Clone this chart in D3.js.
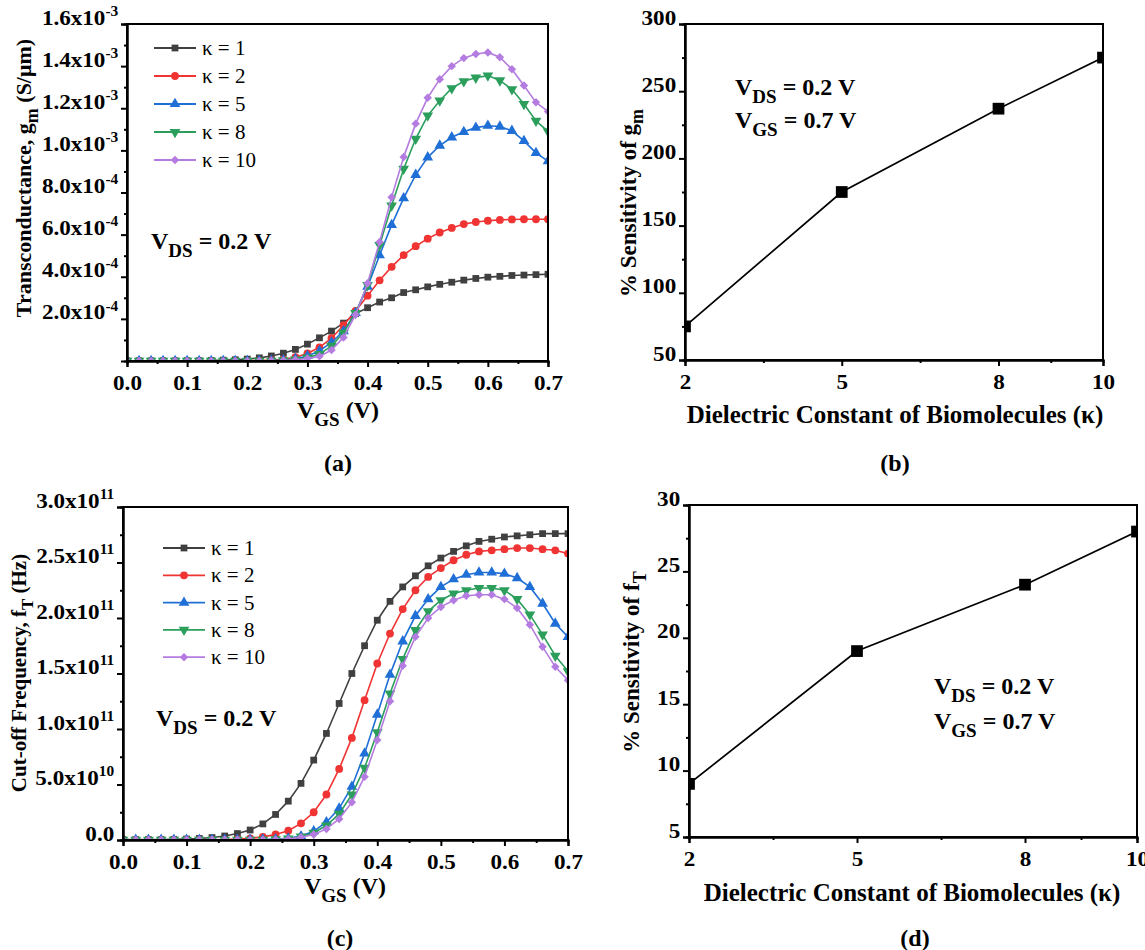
<!DOCTYPE html>
<html>
<head>
<meta charset="utf-8">
<script src="https://cdn.jsdelivr.net/npm/d3@7"></script>
<style>
  body { margin: 0; background: #fff; }
  svg text { font-family: "Liberation Serif", "Times New Roman", serif; font-weight: bold; fill: #000; }
  svg text.plain { font-weight: normal; }
</style>
</head>
<body>
<svg id="fig" width="1145" height="950"></svg>
<script>
// gate voltage grid (V)
const vgs = [0.00,0.02,0.04,0.06,0.08,0.10,0.12,0.14,0.16,0.18,0.20,0.22,0.24,0.26,0.28,0.30,0.32,0.34,
             0.36,0.38,0.40,0.42,0.44,0.46,0.48,0.50,0.52,0.54,0.56,0.58,0.60,0.62,0.64,0.66,0.68,0.70];
const kappaLabels = ['κ = 1', 'κ = 2', 'κ = 5', 'κ = 8', 'κ = 10'];
const seriesColors = ['#404040', '#f03434', '#1f6fd6', '#2b9e5c', '#b47ce0'];

// transconductance, units of 1e-4 S/um
const gmK1 = [0.005,0.005,0.005,0.006,0.008,0.01,0.015,0.025,0.04,0.06,0.09,0.15,0.24,0.37,0.55,0.8,1.1,1.42,
              1.8,2.25,2.53,2.8,3.0,3.25,3.38,3.52,3.64,3.74,3.84,3.92,3.98,4.02,4.06,4.08,4.1,4.12];
const gmK2 = [0.003,0.003,0.003,0.003,0.003,0.003,0.003,0.003,0.003,0.006,0.01,0.02,0.04,0.08,0.18,0.36,0.65,1.08,
              1.7,2.38,3.1,3.83,4.47,5.03,5.45,5.81,6.1,6.32,6.5,6.6,6.66,6.7,6.72,6.73,6.73,6.73];
const gmK5 = [0.002,0.002,0.002,0.002,0.002,0.002,0.002,0.002,0.002,0.002,0.002,0.005,0.015,0.04,0.1,0.24,0.48,0.88,
              1.42,2.28,3.53,5.02,6.46,7.73,8.84,9.67,10.23,10.62,10.88,11.08,11.17,11.13,10.93,10.45,9.88,9.49];
const gmK8 = [0.002,0.002,0.002,0.002,0.002,0.002,0.002,0.002,0.002,0.002,0.002,0.002,0.01,0.03,0.07,0.16,0.33,0.72,
              1.34,2.28,3.6,5.5,7.38,9.12,10.55,11.65,12.36,12.95,13.28,13.45,13.55,13.32,12.9,12.2,11.4,10.9];
const gmK10 = [0.002,0.002,0.002,0.002,0.002,0.002,0.002,0.002,0.002,0.002,0.002,0.002,0.008,0.025,0.06,0.12,0.22,0.52,
               1.12,2.2,3.69,5.65,7.78,9.68,11.27,12.5,13.38,14.0,14.38,14.58,14.65,14.42,13.85,13.08,12.28,11.85];

// cut-off frequency, units of 1e11 Hz
const ftK1 = [0.003,0.003,0.003,0.004,0.006,0.009,0.014,0.022,0.036,0.058,0.09,0.145,0.23,0.35,0.51,0.72,0.96,1.23,
              1.5,1.75,1.98,2.15,2.28,2.38,2.47,2.54,2.6,2.65,2.69,2.71,2.73,2.74,2.75,2.76,2.76,2.76];
const ftK2 = [0.002,0.002,0.002,0.002,0.002,0.002,0.002,0.002,0.004,0.008,0.015,0.028,0.05,0.084,0.15,0.25,0.41,0.64,
              0.92,1.26,1.59,1.86,2.08,2.25,2.37,2.45,2.52,2.57,2.6,2.61,2.62,2.63,2.63,2.62,2.61,2.58];
const ftK5 = [0.002,0.002,0.002,0.002,0.002,0.002,0.002,0.002,0.002,0.002,0.002,0.004,0.008,0.015,0.035,0.08,0.16,0.285,
              0.48,0.78,1.13,1.49,1.79,2.02,2.17,2.28,2.35,2.39,2.41,2.41,2.4,2.36,2.28,2.13,1.95,1.83];
const ftK8 = [0.002,0.002,0.002,0.002,0.002,0.002,0.002,0.002,0.002,0.002,0.002,0.002,0.005,0.012,0.03,0.065,0.13,0.235,
              0.41,0.65,0.97,1.32,1.63,1.89,2.06,2.16,2.22,2.25,2.27,2.27,2.25,2.17,2.03,1.85,1.66,1.52];
const ftK10 = [0.002,0.002,0.002,0.002,0.002,0.002,0.002,0.002,0.002,0.002,0.002,0.002,0.004,0.01,0.025,0.05,0.1,0.19,
               0.34,0.57,0.9,1.25,1.57,1.83,2.0,2.1,2.16,2.2,2.21,2.21,2.17,2.09,1.94,1.74,1.56,1.44];

// sensitivity vs dielectric constant
const kappaVals = [2, 5, 8, 10];
const sensGm = [75, 175, 237, 275];
const sensFt = [9, 19, 24, 28];

const svg = d3.select('#fig');
const defs = svg.append('defs');
const markerTypes = [d3.symbolSquare, d3.symbolCircle, d3.symbolTriangle, d3.symbolTriangle, d3.symbolSquare];
const markerRot = [0, 0, 0, 180, 45];
const markerSize = [46, 48, 50, 50, 36];
const TICK_FS = 21;

// parts: [[text, ''|'sub'|'sup'], ...]
function richText(sel, parts, fs) {
  let cur = 0;
  parts.forEach(p => {
    const kind = p[1] || '';
    const off = kind === 'sub' ? fs * 0.32 : kind === 'sup' ? -fs * 0.42 : 0;
    const ts = sel.append('tspan').attr('dy', off - cur).text(p[0]);
    if (kind) ts.attr('font-size', Math.round(fs * (kind === 'sup' ? 0.66 : 0.8)));
    cur = off;
  });
  return sel;
}

function label(x, y, parts, fs, opts = {}) {
  const t = svg.append('text').attr('x', x).attr('y', y).attr('font-size', fs)
    .attr('text-anchor', opts.anchor || 'start');
  if (opts.rotate) t.attr('transform', `rotate(-90,${x},${y})`);
  return richText(t, parts, fs);
}

function marker(g, i, x, y, color, scale = 1) {
  g.append('path')
    .attr('d', d3.symbol(markerTypes[i], markerSize[i] * scale)())
    .attr('transform', `translate(${x},${y}) rotate(${markerRot[i]})`)
    .attr('fill', color);
}

function panel(cfg) {
  const x = d3.scaleLinear().domain(cfg.xDomain).range([cfg.l, cfg.r]);
  const y = d3.scaleLinear().domain(cfg.yDomain).range([cfg.b, cfg.t]);
  const id = 'clip' + cfg.name;
  defs.append('clipPath').attr('id', id).append('rect')
    .attr('x', cfg.l).attr('y', cfg.t).attr('width', cfg.r - cfg.l).attr('height', cfg.b - cfg.t);
  const plot = svg.append('g').attr('clip-path', `url(#${id})`);

  cfg.series.forEach(s => {
    const pts = cfg.xs.map((v, j) => [x(v), y(s.values[j])]);
    plot.append('path').attr('d', d3.line()(pts))
      .attr('fill', 'none').attr('stroke', s.color).attr('stroke-width', cfg.lineW || 1.6);
    pts.forEach(p => marker(plot, s.marker, p[0], p[1], s.color, cfg.markScale || 1));
  });

  const axes = svg.append('g').attr('class', 'axes');
  axes.append('g').attr('transform', `translate(0,${cfg.b})`)
    .call(d3.axisBottom(x).tickValues(cfg.xTicks).tickSize(6).tickPadding(8).tickFormat(cfg.xFmt));
  axes.append('g').attr('transform', `translate(0,${cfg.b})`)
    .call(d3.axisBottom(x).tickValues(cfg.xMinor).tickSize(3).tickFormat(''));
  const yAxis = axes.append('g').attr('transform', `translate(${cfg.l},0)`)
    .call(d3.axisLeft(y).tickValues(cfg.yTicks).tickSize(6).tickPadding(2).tickFormat(''));
  axes.append('g').attr('transform', `translate(${cfg.l},0)`)
    .call(d3.axisLeft(y).tickValues(cfg.yMinor).tickSize(3).tickFormat(''));
  yAxis.selectAll('.tick text').each(function(d) {
    richText(d3.select(this), cfg.yFmt(d), TICK_FS);
  });
  axes.selectAll('.domain').attr('stroke-width', 2);
  axes.selectAll('.tick line').attr('stroke-width', 2);
  // the source figure's lettering is a little wide, so stretch tick labels sideways
  axes.selectAll('.tick text').attr('font-size', TICK_FS).attr('transform', 'scale(1.1,1)');
  axes.append('rect').attr('x', cfg.l).attr('y', cfg.t)
    .attr('width', cfg.r - cfg.l).attr('height', cfg.b - cfg.t)
    .attr('fill', 'none').attr('stroke', '#000').attr('stroke-width', 2);
  return { x, y };
}

function legend(x0, y0, dy) {
  kappaLabels.forEach((lab, i) => {
    const yy = y0 + i * dy;
    svg.append('line').attr('x1', x0).attr('x2', x0 + 42).attr('y1', yy).attr('y2', yy)
      .attr('stroke', seriesColors[i]).attr('stroke-width', 1.8);
    marker(svg, i, x0 + 21, yy, seriesColors[i]);
    svg.append('text').attr('class', 'plain').attr('x', x0 + 48).attr('y', yy + 7)
      .attr('font-size', 21).text(lab);
  });
}

const sciFmt = (mant, exp) => [[mant + 'x10'], [exp, 'sup']];
const vTicks = [0, 0.1, 0.2, 0.3, 0.4, 0.5, 0.6, 0.7];
const vMinor = [0.05, 0.15, 0.25, 0.35, 0.45, 0.55, 0.65];

// (a) transconductance
panel({
  name: 'a', l: 127, r: 548, t: 24, b: 361,
  xDomain: [0, 0.7], yDomain: [0, 16], xs: vgs,
  xTicks: vTicks, xMinor: vMinor, xFmt: d3.format('.1f'),
  yTicks: [2, 4, 6, 8, 10, 12, 14, 16], yMinor: [1, 3, 5, 7, 9, 11, 13, 15],
  yFmt: d => d < 10 ? sciFmt(d.toFixed(1), '-4') : sciFmt((d / 10).toFixed(1), '-3'),
  series: [gmK1, gmK2, gmK5, gmK8, gmK10].map((v, i) => ({ values: v, color: seriesColors[i], marker: i }))
});
legend(154, 48, 28);
label(151, 249, [['V'], ['DS', 'sub'], [' = 0.2 V']], 24);
label(31, 178, [['Transconductance, g'], ['m', 'sub'], [' (S/μm)']], 22, { rotate: true, anchor: 'middle' });
label(338, 418, [['V'], ['GS', 'sub'], [' (V)']], 24, { anchor: 'middle' });
label(338, 471, [['(a)']], 24, { anchor: 'middle' });

// (b) sensitivity of gm
panel({
  name: 'b', l: 685, r: 1103, t: 24, b: 360,
  xDomain: [2, 10], yDomain: [50, 300], xs: kappaVals,
  xTicks: [2, 5, 8, 10], xMinor: [3.5, 6.5, 9], xFmt: d3.format('d'),
  yTicks: [50, 100, 150, 200, 250, 300], yMinor: [75, 125, 175, 225, 275],
  yFmt: d => [[String(d)]],
  lineW: 1.7, markScale: 3,
  series: [{ values: sensGm, color: '#000', marker: 0 }]
});
label(735, 95, [['V'], ['DS', 'sub'], [' = 0.2 V']], 24);
label(735, 128, [['V'], ['GS', 'sub'], [' = 0.7 V']], 24);
label(636, 203, [['% Sensitivity of g'], ['m', 'sub']], 23, { rotate: true, anchor: 'middle' });
label(895, 423, [['Dielectric Constant of Biomolecules (κ)']], 25, { anchor: 'middle' });
label(895, 471, [['(b)']], 24, { anchor: 'middle' });

// (c) cut-off frequency
panel({
  name: 'c', l: 123, r: 568, t: 507, b: 840,
  xDomain: [0, 0.7], yDomain: [0, 3], xs: vgs,
  xTicks: vTicks, xMinor: vMinor, xFmt: d3.format('.1f'),
  yTicks: [0, 0.5, 1, 1.5, 2, 2.5, 3], yMinor: [0.25, 0.75, 1.25, 1.75, 2.25, 2.75],
  yFmt: d => d === 0 ? [['0.0']] : d < 1 ? sciFmt((d * 10).toFixed(1), '10') : sciFmt(d.toFixed(1), '11'),
  series: [ftK1, ftK2, ftK5, ftK8, ftK10].map((v, i) => ({ values: v, color: seriesColors[i], marker: i }))
});
legend(163, 548, 27.3);
label(156, 726, [['V'], ['DS', 'sub'], [' = 0.2 V']], 24);
label(26, 673, [['Cut-off Frequency, f'], ['T', 'sub'], [' (Hz)']], 21, { rotate: true, anchor: 'middle' });
label(345, 894, [['V'], ['GS', 'sub'], [' (V)']], 24, { anchor: 'middle' });
label(340, 946, [['(c)']], 24, { anchor: 'middle' });

// (d) sensitivity of fT
panel({
  name: 'd', l: 689, r: 1137, t: 505, b: 837,
  xDomain: [2, 10], yDomain: [5, 30], xs: kappaVals,
  xTicks: [2, 5, 8, 10], xMinor: [3.5, 6.5, 9], xFmt: d3.format('d'),
  yTicks: [5, 10, 15, 20, 25, 30], yMinor: [7.5, 12.5, 17.5, 22.5, 27.5],
  yFmt: d => [[String(d)]],
  lineW: 1.7, markScale: 3,
  series: [{ values: sensFt, color: '#000', marker: 0 }]
});
label(934, 694, [['V'], ['DS', 'sub'], [' = 0.2 V']], 24);
label(934, 729, [['V'], ['GS', 'sub'], [' = 0.7 V']], 24);
label(639, 662, [['% Sensitivity of f'], ['T', 'sub']], 23, { rotate: true, anchor: 'middle' });
label(912, 901, [['Dielectric Constant of Biomolecules (κ)']], 25, { anchor: 'middle' });
label(915, 946, [['(d)']], 24, { anchor: 'middle' });
</script>
</body>
</html>
